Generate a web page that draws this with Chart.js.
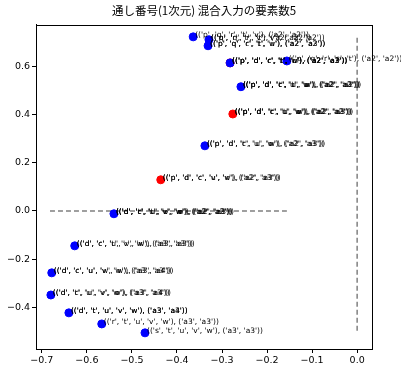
<!DOCTYPE html>
<html>
<head>
<meta charset="utf-8">
<script src="https://cdn.jsdelivr.net/npm/chart.js@4"></script>
<style>
  html, body { margin: 0; padding: 0; background: #fff; }
  #wrap { width: 401px; height: 372px; }
</style>
</head>
<body>
<div id="wrap"><canvas id="chart" width="401" height="372"></canvas></div>
<script>
// --- data ---
const titleText = '通し番号(1次元) 混合入力の要素数5';

const blueX = [-0.364, -0.329, -0.331, -0.282, -0.156, -0.258, -0.338, -0.540, -0.627, -0.678, -0.680, -0.640, -0.567, -0.471];
const blueY = [0.722, 0.710, 0.685, 0.614, 0.622, 0.515, 0.270, -0.012, -0.145, -0.257, -0.349, -0.423, -0.469, -0.506];
const blueLabels = [
  ["(('p', 'q', 'r', 't', 'v'), ('a2', 'a2'))"],
  ["(('p', 'q', 'r', 't', 'v'), ('a2', 'a2'))", "(('q', 'r', 't', 'v'), ('a2', 'a2'))"],
  ["(('p', 'q', 'r', 't', 'w'), ('a2', 'a3'))", "(('p', 'q', 'c', 't', 'u'), ('a2', 'a2'))"],
  ["(('p', 'd', 'c', 't', 'u'), ('a2', 'a3'))", "(('p', 'd', 'r', 't', 'w'), ('a2', 'a2'))"],
  ["(('p', 'q', 'r', 's', 't'), ('a2', 'a2'))"],
  ["(('p', 'd', 'c', 'u', 'w'), ('a2', 'a2'))", "(('p', 'd', 't', 'u', 'w'), ('a2', 'a3'))", "(('p', 'd', 'c', 't', 'w'), ('a2', 'a2'))"],
  ["(('p', 'd', 'c', 'u', 'w'), ('a2', 'a3'))", "(('p', 'd', 't', 'u', 'w'), ('a2', 'a3'))"],
  ["(('d', 'c', 'u', 'v', 'w'), ('a2', 'a3'))", "(('d', 'c', 't', 'v', 'w'), ('a2', 'a2'))", "(('d', 't', 'u', 'v', 'w'), ('a2', 'a3'))"],
  ["(('d', 'c', 'u', 'v', 'w'), ('a3', 'a3'))", "(('d', 'c', 't', 'v', 'w'), ('a3', 'a3'))"],
  ["(('d', 'c', 'u', 'v', 'w'), ('a3', 'a3'))", "(('d', 'c', 'u', 'w', 'w'), ('a3', 'a4'))"],
  ["(('d', 't', 'u', 'v', 'w'), ('a3', 'a3'))", "(('d', 'c', 'u', 'v', 'w'), ('a3', 'a4'))"],
  ["(('d', 't', 'u', 'v', 'w'), ('a3', 'a4'))", "(('d', 't', 'u', 'v', 'w'), ('a3', 'a3'))"],
  ["(('r', 't', 'u', 'v', 'w'), ('a3', 'a3'))"],
  ["(('s', 't', 'u', 'v', 'w'), ('a3', 'a3'))"]
];

const redX = [-0.282, -0.276, -0.436];
const redY = [0.614, 0.402, 0.129];
const redLabels = [
  ["(('p', 'd', 'c', 't', 'u'), ('a2', 'a3'))"],
  ["(('p', 'd', 'c', 'u', 'w'), ('a2', 'a3'))", "(('p', 'd', 'c', 't', 'w'), ('a2', 'a2'))", "(('p', 'd', 't', 'u', 'w'), ('a2', 'a3'))"],
  ["(('p', 'd', 'c', 'v', 'w'), ('a2', 'a3'))", "(('p', 'd', 'c', 'u', 'v'), ('a2', 'a3'))"]
];

// dashed reference lines
const hLineX = [-0.682, -0.156];
const hLineY = [0, 0];
const vLineX = [0, 0];
const vLineY = [0.718, -0.506];

const xTicks = [-0.7, -0.6, -0.5, -0.4, -0.3, -0.2, -0.1, 0.0];
const yTicks = [-0.4, -0.2, 0.0, 0.2, 0.4, 0.6];
const xRange = [-0.713, 0.033];
const yRange = [-0.573, 0.772];

const toPts = (xs, ys) => xs.map((x, i) => ({ x: x, y: ys[i] }));
const fmt = v => (v < 0 ? '\u2212' : '') + Math.abs(v).toFixed(1);

const labelPlugin = {
  id: 'pointLabels',
  afterDatasetsDraw(chart) {
    const ctx = chart.ctx;
    ctx.save();
    ctx.font = '7.5px "DejaVu Sans", sans-serif';
    ctx.fillStyle = '#000';
    ctx.textAlign = 'left';
    ctx.textBaseline = 'alphabetic';
    [[1, redLabels], [0, blueLabels]].forEach(([di, labs]) => {
      const meta = chart.getDatasetMeta(di);
      meta.data.forEach((el, i) => {
        labs[i].forEach(t => ctx.fillText(t, el.x + 2, el.y));
      });
    });
    ctx.restore();
  },
  afterDraw(chart) {
    const a = chart.chartArea;
    const ctx = chart.ctx;
    ctx.save();
    ctx.strokeStyle = '#000';
    ctx.lineWidth = 1;
    ctx.strokeRect(Math.round(a.left) + 0.5, Math.round(a.top) + 0.5, Math.round(a.right - a.left), Math.round(a.bottom - a.top));
    ctx.restore();
  }
};

new Chart(document.getElementById('chart'), {
  type: 'scatter',
  data: {
    datasets: [
      { data: toPts(blueX, blueY), backgroundColor: 'blue', borderColor: 'blue', pointRadius: 4, pointHoverRadius: 4, order: 1 },
      { data: toPts(redX, redY), backgroundColor: 'red', borderColor: 'red', pointRadius: 4, pointHoverRadius: 4, order: 2 },
      { data: toPts(hLineX, hLineY), showLine: true, borderColor: '#808080', borderWidth: 1.5, borderDash: [5, 3], pointRadius: 0, order: 3 },
      { data: toPts(vLineX, vLineY), showLine: true, borderColor: '#808080', borderWidth: 1.5, borderDash: [5, 3], pointRadius: 0, order: 3 }
    ]
  },
  options: {
    responsive: false,
    animation: false,
    events: [],
    layout: { padding: { left: 0, right: 29, top: 0, bottom: 0 } },
    plugins: {
      legend: { display: false },
      tooltip: { enabled: false },
      title: {
        display: true,
        fullSize: false,
        text: titleText,
        color: '#000',
        font: { family: '"Noto Sans CJK JP", sans-serif', size: 11.5, weight: 'normal' },
        padding: { top: 4, bottom: 7 }
      }
    },
    scales: {
      x: {
        type: 'linear',
        min: xRange[0], max: xRange[1],
        afterBuildTicks: s => { s.ticks = xTicks.map(v => ({ value: v })); },
        afterFit: s => { s.height = 23; },
        ticks: { callback: v => fmt(v), color: '#000', font: { family: '"DejaVu Sans", sans-serif', size: 9.5 }, maxRotation: 0, padding: 2 },
        grid: { display: true, drawOnChartArea: false, drawTicks: true, tickLength: 4, color: '#000' },
        border: { display: true, color: '#000' }
      },
      y: {
        type: 'linear',
        min: yRange[0], max: yRange[1],
        afterBuildTicks: s => { s.ticks = yTicks.map(v => ({ value: v })); },
        afterFit: s => { s.width = 36; },
        ticks: { callback: v => fmt(v), color: '#000', font: { family: '"DejaVu Sans", sans-serif', size: 9.5 }, padding: 2 },
        grid: { display: true, drawOnChartArea: false, drawTicks: true, tickLength: 4, color: '#000' },
        border: { display: true, color: '#000' }
      }
    }
  },
  plugins: [labelPlugin]
});
</script>
</body>
</html>
